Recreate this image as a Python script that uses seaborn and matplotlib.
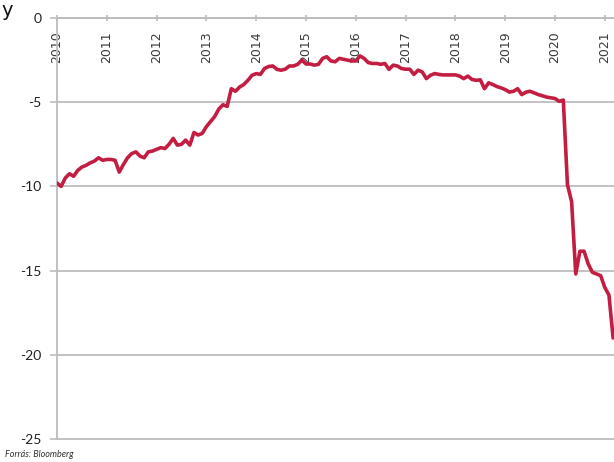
import numpy as np
import pandas as pd
import matplotlib
matplotlib.use("Agg")
import matplotlib.pyplot as plt
import seaborn as sns

# Monthly series starting January 2010
start_year = 2010
values = [
    -9.8, -10.0, -9.5, -9.25, -9.4, -9.05, -8.85, -8.75, -8.6, -8.5, -8.3, -8.45,
    -8.4, -8.4, -8.45, -9.15, -8.7, -8.3, -8.05, -7.95, -8.2, -8.3, -7.95, -7.9,
    -7.8, -7.7, -7.75, -7.5, -7.15, -7.55, -7.5, -7.25, -7.55, -6.8, -6.95, -6.85,
    -6.45, -6.15, -5.85, -5.4, -5.15, -5.25, -4.2, -4.35, -4.1, -3.95, -3.7, -3.4,
    -3.3, -3.35, -3.0, -2.88, -2.85, -3.05, -3.1, -3.04, -2.85, -2.85, -2.75, -2.5,
    -2.73, -2.73, -2.8, -2.75, -2.4, -2.3, -2.55, -2.6, -2.4, -2.45, -2.5, -2.55,
    -2.55, -2.25, -2.4, -2.65, -2.7, -2.7, -2.75, -2.7, -3.05, -2.8, -2.85, -3.0,
    -3.04, -3.04, -3.35, -3.1, -3.2, -3.6, -3.4, -3.3, -3.35, -3.38, -3.38, -3.38,
    -3.38, -3.45, -3.6, -3.45, -3.65, -3.7, -3.67, -4.2, -3.85, -3.95, -4.07, -4.15,
    -4.25, -4.4, -4.35, -4.2, -4.55, -4.4, -4.35, -4.45, -4.55, -4.62, -4.7, -4.74,
    -4.78, -4.95, -4.87, -9.9, -10.9, -15.2, -13.85, -13.85, -14.6, -15.1, -15.2, -15.3,
    -16.0, -16.45, -19.0,
]
year_ticks = list(range(2010, 2022))
y_ticks = [0, -5, -10, -15, -20, -25]
source_text = "Forrás: Bloomberg"
corner_text = "y"

x = start_year + np.arange(len(values)) / 12.0
df = pd.DataFrame({"year": x, "value": values})

sns.set_theme(style="white")
plt.rcParams["font.family"] = ["Lato", "DejaVu Sans"]

W, H = 614, 462
fig = plt.figure(figsize=(W / 100, H / 100), dpi=100)
left_px, right_px, top_px, bot_px = 57, 614, 18, 439
ax = fig.add_axes([left_px / W, 1 - bot_px / H, (right_px - left_px) / W, (bot_px - top_px) / H])

sns.lineplot(data=df, x="year", y="value", ax=ax, color="#C31E42", linewidth=2.6,
             solid_joinstyle="round", solid_capstyle="round", zorder=3)

grid_col = "#bdbdbd"
for s in ["top", "right"]:
    ax.spines[s].set_visible(False)
ax.spines["bottom"].set_position(("data", 0))
ax.spines["bottom"].set_color(grid_col)
ax.spines["bottom"].set_linewidth(1.3)
ax.spines["left"].set_color(grid_col)
ax.spines["left"].set_linewidth(1.3)

ax.set_xlim(2010, 2010 + (right_px - left_px) / 49.8)
ax.set_ylim(-25, 0)
ax.set_xlabel("")
ax.set_ylabel("")

ax.set_yticks(y_ticks)
ax.set_yticklabels([str(v) for v in y_ticks])
ax.yaxis.grid(True, color=grid_col, linewidth=1.3)
for gl in ax.get_ygridlines():
    gl.set_clip_on(False)
ax.xaxis.grid(False)

ax.set_xticks(year_ticks)
ax.set_xticklabels([str(y) for y in year_ticks])

ax.tick_params(axis="x", bottom=True, direction="inout", length=5, width=1.2,
               color=grid_col, pad=7, labelrotation=90, labelsize=9,
               labelcolor="#3a3a3a", labelfontfamily="DejaVu Sans")
ax.tick_params(axis="y", left=True, direction="out", length=5, width=1.2,
               color=grid_col, pad=6, labelsize=10, labelcolor="#222222")

fig.text(5 / W, 1 - 457 / H, source_text, fontsize=6.5, style="italic",
         color="#333333", ha="left", va="baseline")
fig.text(1 / W, 1 - 1 / H, corner_text, fontsize=14, color="#111111",
         ha="left", va="top", fontfamily="DejaVu Sans")

fig.savefig("out.png", dpi=100)
